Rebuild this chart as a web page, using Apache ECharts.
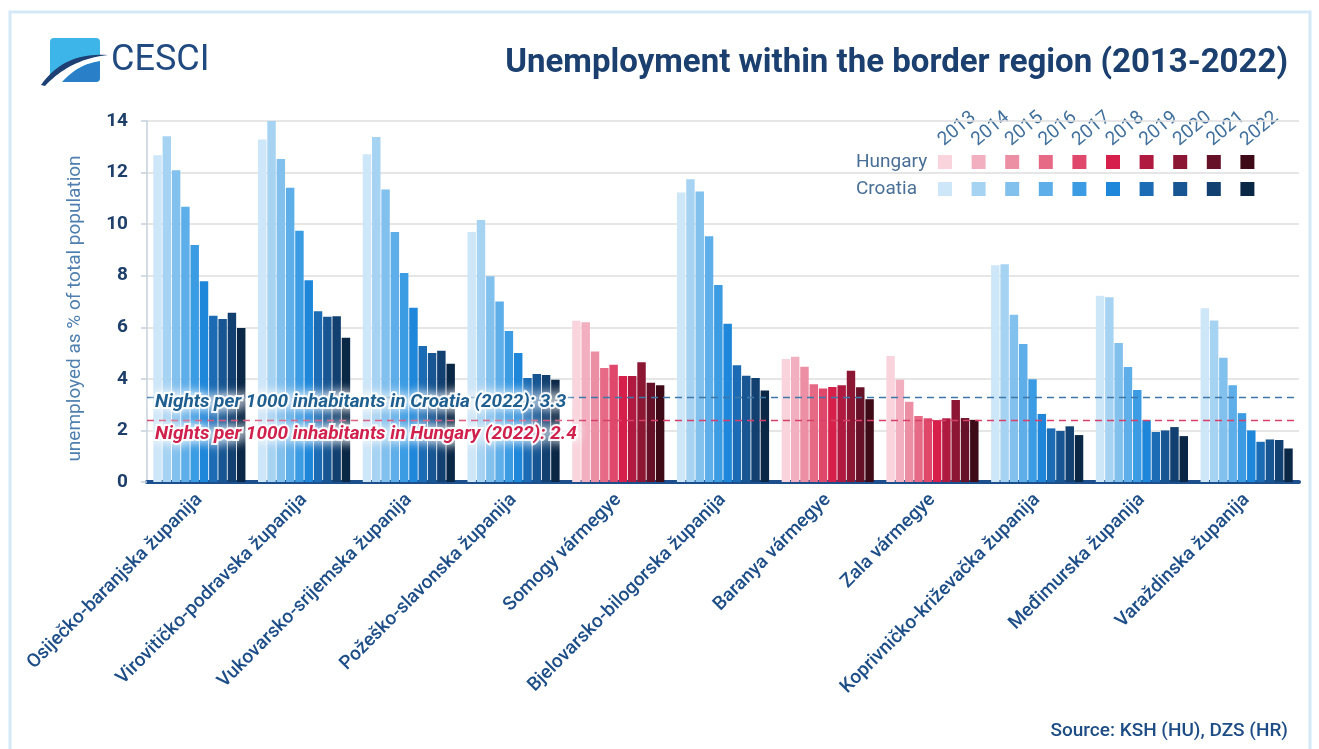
<!DOCTYPE html>
<html>
<head>
<meta charset="utf-8">
<title>Unemployment within the border region (2013-2022)</title>
<script src="https://cdn.jsdelivr.net/npm/echarts@6/dist/echarts.min.js"></script>
<style>
  html, body { margin: 0; padding: 0; background: #ffffff; }
  #chart { width: 1319px; height: 749px; }
</style>
</head>
<body>
<div id="chart"></div>
<script>
// Regions along the border (x-axis categories)
const categories = [
  'Osiječko-baranjska županija',
  'Virovitičko-podravska županija',
  'Vukovarsko-srijemska županija',
  'Požeško-slavonska županija',
  'Somogy vármegye',
  'Bjelovarsko-bilogorska županija',
  'Baranya vármegye',
  'Zala vármegye',
  'Koprivničko-križevačka županija',
  'Međimurska županija',
  'Varaždinska županija'
];
// true where the region lies in Hungary
const isHungarian = [false, false, false, false, true, false, true, true, false, false, false];

const years = ['2013', '2014', '2015', '2016', '2017', '2018', '2019', '2020', '2021', '2022'];

// Unemployed as % of total population, one array per year (same order as categories)
const y2013 = [12.67, 13.28, 12.71, 9.70, 6.25, 11.23, 4.77, 4.89, 8.41, 7.22, 6.74];
const y2014 = [13.41, 14.00, 13.38, 10.16, 6.20, 11.74, 4.86, 3.97, 8.44, 7.16, 6.26];
const y2015 = [12.09, 12.53, 11.34, 7.98, 5.06, 11.27, 4.47, 3.11, 6.49, 5.39, 4.82];
const y2016 = [10.67, 11.41, 9.70, 7.00, 4.42, 9.53, 3.79, 2.56, 5.35, 4.46, 3.75];
const y2017 = [9.19, 9.74, 8.11, 5.86, 4.55, 7.64, 3.63, 2.47, 3.98, 3.57, 2.67];
const y2018 = [7.79, 7.82, 6.76, 5.00, 4.11, 6.14, 3.68, 2.40, 2.64, 2.40, 2.00];
const y2019 = [6.45, 6.62, 5.27, 4.03, 4.11, 4.53, 3.75, 2.47, 2.08, 1.94, 1.56];
const y2020 = [6.32, 6.41, 5.00, 4.19, 4.64, 4.12, 4.31, 3.18, 1.98, 2.00, 1.65];
const y2021 = [6.56, 6.43, 5.09, 4.15, 3.85, 4.03, 3.67, 2.48, 2.16, 2.13, 1.63];
const y2022 = [5.97, 5.59, 4.59, 3.97, 3.75, 3.55, 3.21, 2.41, 1.82, 1.78, 1.30];
const yearValues = [y2013, y2014, y2015, y2016, y2017, y2018, y2019, y2020, y2021, y2022];

// Reference levels (2022)
const croatiaRef = 3.3;
const hungaryRef = 2.4;

// Y-axis scale
const yMin = 0, yMax = 14, yStep = 2;

// Year palettes, light to dark
const huColors = ['#f9d4dd', '#f2afbf', '#ec8ea4', '#e66a86', '#df476b', '#d71f4b', '#b01a41', '#8b1735', '#661128', '#3e0a18'];
const hrColors = ['#cde6f8', '#a7d3f3', '#82c0ee', '#5eaee9', '#3b9ce4', '#1e87da', '#1b6cb5', '#175693', '#124071', '#0b2746'];

const FONT = 'Roboto, "Noto Sans", sans-serif';

const series = years.map((yr, yi) => {
  const s = {
    name: yr,
    type: 'bar',
    barGap: '10%',
    barCategoryGap: '12%',
    data: yearValues[yi].map((v, ci) => ({
      value: v,
      itemStyle: { color: isHungarian[ci] ? huColors[yi] : hrColors[yi] }
    }))
  };
  if (yi === 0) {
    const haloLabel = {
      show: true,
      position: 'insideStartBottom',
      fontFamily: FONT,
      fontSize: 19,
      fontStyle: 'italic',
      fontWeight: 'bold',
      textBorderColor: 'rgba(255,255,255,0.9)',
      textBorderWidth: 4,
      textShadowColor: '#ffffff',
      textShadowBlur: 12
    };
    s.markLine = {
      silent: true,
      symbol: ['none', 'none'],
      animation: false,
      data: [
        {
          yAxis: croatiaRef,
          lineStyle: { color: '#3f77a8', width: 1.4, type: [7, 5] },
          label: Object.assign({}, haloLabel, {
            color: '#1f5f8f',
            distance: [8, -4],
            formatter: () => 'Nights per 1000 inhabitants in Croatia (2022): ' + croatiaRef
          })
        },
        {
          yAxis: hungaryRef,
          lineStyle: { color: '#d6416a', width: 1.4, type: [7, 5] },
          label: Object.assign({}, haloLabel, {
            color: '#d0214d',
            distance: [8, 5],
            formatter: () => 'Nights per 1000 inhabitants in Hungary (2022): ' + hungaryRef
          })
        }
      ]
    };
  }
  return s;
});

// Two-row colour key: Hungary / Croatia, one swatch per year
const keyX0 = 945, keyStep = 33.6, keySize = 14;
const rowHu = 162, rowHr = 189;
const keyGraphics = [];
keyGraphics.push({
  type: 'text', x: 856, y: rowHu,
  style: { text: 'Hungary', x: 0, y: 0, fill: '#4a6f96', font: '19px ' + FONT, align: 'left', verticalAlign: 'middle' }
});
keyGraphics.push({
  type: 'text', x: 856, y: rowHr,
  style: { text: 'Croatia', x: 0, y: 0, fill: '#4a6f96', font: '19px ' + FONT, align: 'left', verticalAlign: 'middle' }
});
years.forEach((yr, i) => {
  const cx = keyX0 + i * keyStep;
  keyGraphics.push({
    type: 'rect',
    shape: { x: cx - keySize / 2, y: rowHu - keySize / 2, width: keySize, height: keySize },
    style: { fill: huColors[i] }
  });
  keyGraphics.push({
    type: 'rect',
    shape: { x: cx - keySize / 2, y: rowHr - keySize / 2, width: keySize, height: keySize },
    style: { fill: hrColors[i] }
  });
  keyGraphics.push({
    type: 'text',
    x: cx + 2, y: 150,
    rotation: 40 * Math.PI / 180,
    style: { text: yr, x: 0, y: 0, fill: '#41709c', font: '19px ' + FONT, align: 'left', verticalAlign: 'bottom' }
  });
});

// Quadratic curve sampled to points, for the logo outlines
function quad(p0, c, p1, n) {
  const pts = [];
  for (let i = 0; i <= n; i++) {
    const t = i / n, u = 1 - t;
    pts.push([u * u * p0[0] + 2 * u * t * c[0] + t * t * p1[0], u * u * p0[1] + 2 * u * t * c[1] + t * t * p1[1]]);
  }
  return pts;
}

// Logo mark and wordmark
const logoGraphics = [
  { type: 'rect', shape: { x: 50, y: 38, width: 50, height: 44, r: 4 }, style: { fill: '#3db5e8' } },
  {
    type: 'polygon',
    shape: { points: quad([62, 82], [78, 64], [100, 61], 16).concat([[100, 78], [99, 81], [96, 82]]) },
    style: { fill: '#2a80c8' }
  },
  {
    type: 'polygon',
    shape: { points: quad([44, 86], [68, 61], [100, 55], 16).concat([[100, 61]], quad([100, 61], [78, 64], [62, 82], 16), [[50, 82], [50, 86]]) },
    style: { fill: '#ffffff' }
  },
  {
    type: 'polygon',
    shape: { points: quad([41, 85], [64, 52], [108, 55], 20).concat(quad([108, 55], [70, 59], [45, 86], 20)) },
    style: { fill: '#1d3f74' }
  },
  {
    type: 'text', x: 111, y: 61,
    style: { text: 'CESCI', x: 0, y: 0, fill: '#204a80', font: '36px ' + FONT, align: 'left', verticalAlign: 'middle' }
  }
];

const chart = echarts.init(document.getElementById('chart'), null, { renderer: 'canvas' });

chart.setOption({
  animation: false,
  backgroundColor: '#ffffff',
  textStyle: { fontFamily: FONT },
  grid: {
    left: 147, right: 20, top: 121, bottom: 267,
    containLabel: false,
    outerBoundsMode: 'none'
  },
  xAxis: {
    type: 'category',
    data: categories,
    axisTick: { show: false },
    axisLine: { show: true, lineStyle: { color: '#1c4f8b', width: 4 } },
    axisLabel: {
      interval: 0,
      rotate: 45,
      margin: 15,
      fontFamily: FONT,
      fontSize: 19,
      fontWeight: 500,
      color: '#1e4e87'
    }
  },
  yAxis: {
    type: 'value',
    min: yMin,
    max: yMax,
    interval: yStep,
    name: 'unemployed as % of total population',
    nameLocation: 'middle',
    nameGap: 62,
    nameTextStyle: { fontFamily: FONT, fontSize: 19, color: '#4f7fae', padding: [0, 14, 0, 0] },
    axisLine: { show: true, lineStyle: { color: '#c5d1dd', width: 1.5 } },
    axisTick: { show: true, length: 6, lineStyle: { color: '#c5d1dd', width: 1.5 } },
    axisLabel: { margin: 19, fontFamily: FONT, fontSize: 19, fontWeight: 'bold', color: '#1f3f6b' },
    splitLine: { show: true, lineStyle: { color: '#dedede', width: 1.5 } }
  },
  series: series,
  graphic: [
    {
      type: 'rect', silent: true, z: -1,
      shape: { x: 10, y: 12, width: 1300, height: 760 },
      style: { fill: 'none', stroke: '#d4e9f7', lineWidth: 3 }
    },
    ...logoGraphics,
    {
      type: 'text', x: 1288, y: 64,
      style: {
        text: 'Unemployment within the border region (2013-2022)', x: 0, y: 0,
        fill: '#1b3f6e', font: 'bold 33px ' + FONT, align: 'right', verticalAlign: 'middle'
      }
    },
    ...keyGraphics,
    {
      type: 'text', x: 1288, y: 731,
      style: {
        text: 'Source: KSH (HU), DZS (HR)', x: 0, y: 0,
        fill: '#1e4d85', font: '500 19px ' + FONT, align: 'right', verticalAlign: 'middle'
      }
    }
  ]
});
</script>
</body>
</html>
